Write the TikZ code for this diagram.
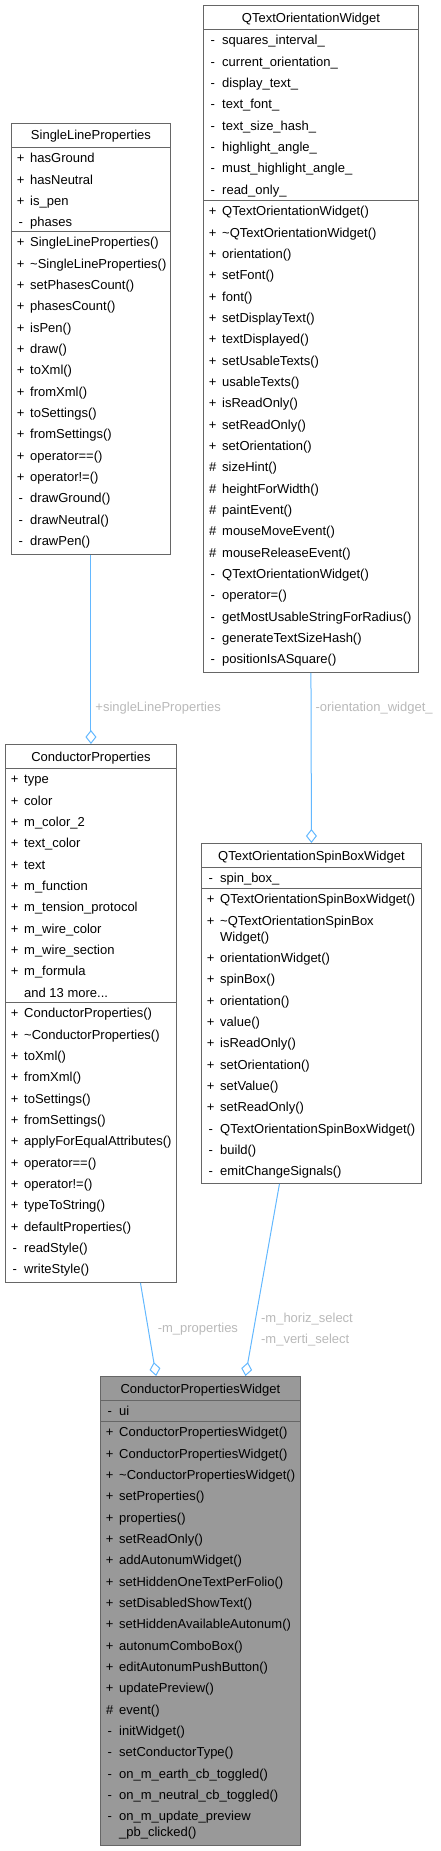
\documentclass[tikz,border=0pt]{standalone}
\usepackage{fontspec}
\setmainfont{Liberation Sans}
\usetikzlibrary{arrows.meta}
\definecolor{boxgray}{RGB}{102, 102, 102}
\definecolor{mainfill}{RGB}{153, 153, 153}
\definecolor{edgeblue}{RGB}{99, 184, 255}
\definecolor{labelgray}{RGB}{185, 185, 185}

% one row per member: sign column, then name
\newcommand{\memberrows}[3]{%
  \foreach \sg/\nm [count=\i from 0] in {#3}
    \node[member] at (#1, #2+21.33*\i) {\makebox[15pt][c]{\sg}\hspace{2pt}\nm};
}

\begin{document}
\begin{tikzpicture}[
    x = 1pt, y = -1pt,
    cls/.style = {draw = boxgray, line width = 0.9pt, fill = white, anchor = north west, inner sep = 0},
    mainclass/.style = {cls, fill = mainfill},
    sepline/.style = {draw = boxgray, line width = 0.9pt},
    title/.style = {anchor = base, inner sep = 0, font = \fontsize{13}{15}\selectfont},
    member/.style = {anchor = base west, inner sep = 0, font = \fontsize{13}{15}\selectfont},
    elabel/.style = {anchor = west, inner sep = 0, xshift = 4pt, text = labelgray, font = \fontsize{13}{21.3}\selectfont},
    assoc/.style = {draw = edgeblue, line width = 1pt, -{Diamond[open, length = 14pt, width = 11pt]}}
]
\useasboundingbox (0,0) rectangle (440,1851);

% SingleLineProperties
\node[cls, minimum width = 159pt, minimum height = 431pt] (slp) at (11,123) {};
\node[title] (slpname) at (slp.north |- 0,140) {SingleLineProperties};
\draw[sepline] (slp.west |- 0,147) -- (slp.east |- 0,147);
\draw[sepline] (slp.west |- 0,231) -- (slp.east |- 0,231);
\memberrows{13}{162.8}{+/hasGround, +/hasNeutral, +/is\_pen, -/phases}
\memberrows{13}{246.8}{+/SingleLineProperties(), +/\textasciitilde SingleLineProperties(), +/setPhasesCount(),
  +/phasesCount(), +/isPen(), +/draw(), +/toXml(), +/fromXml(), +/toSettings(), +/fromSettings(),
  +/operator==(), +/operator!=(), -/drawGround(), -/drawNeutral(), -/drawPen()}

% QTextOrientationWidget
\node[cls, minimum width = 215pt, minimum height = 667pt] (qtow) at (203,5) {};
\node[title] (qtowname) at (qtow.north |- 0,22.3) {QTextOrientationWidget};
\draw[sepline] (qtow.west |- 0,29) -- (qtow.east |- 0,29);
\draw[sepline] (qtow.west |- 0,200) -- (qtow.east |- 0,200);
\memberrows{205}{44.8}{-/squares\_interval\_, -/current\_orientation\_, -/display\_text\_, -/text\_font\_,
  -/text\_size\_hash\_, -/highlight\_angle\_, -/must\_highlight\_angle\_, -/read\_only\_}
\memberrows{205}{215.8}{+/QTextOrientationWidget(), +/\textasciitilde QTextOrientationWidget(), +/orientation(),
  +/setFont(), +/font(), +/setDisplayText(), +/textDisplayed(), +/setUsableTexts(), +/usableTexts(),
  +/isReadOnly(), +/setReadOnly(), +/setOrientation(), \#/sizeHint(), \#/heightForWidth(), \#/paintEvent(),
  \#/mouseMoveEvent(), \#/mouseReleaseEvent(), -/QTextOrientationWidget(), -/operator=(),
  -/getMostUsableStringForRadius(), -/generateTextSizeHash(), -/positionIsASquare()}

% ConductorProperties
\node[cls, minimum width = 171pt, minimum height = 538pt] (cp) at (5,744) {};
\node[title] (cpname) at (cp.north |- 0,761) {ConductorProperties};
\draw[sepline] (cp.west |- 0,768) -- (cp.east |- 0,768);
\draw[sepline] (cp.west |- 0,1002) -- (cp.east |- 0,1002);
\memberrows{7}{783.8}{+/type, +/color, +/m\_color\_2, +/text\_color, +/text, +/m\_function,
  +/m\_tension\_protocol, +/m\_wire\_color, +/m\_wire\_section, +/m\_formula, {}/{and 13 more.{}.{}.}}
\memberrows{7}{1017.8}{+/ConductorProperties(), +/\textasciitilde ConductorProperties(), +/toXml(), +/fromXml(),
  +/toSettings(), +/fromSettings(), +/applyForEqualAttributes(), +/operator==(), +/operator!=(),
  +/typeToString(), +/defaultProperties(), -/readStyle(), -/writeStyle()}

% QTextOrientationSpinBoxWidget
\node[cls, minimum width = 220pt, minimum height = 340pt] (qtosbw) at (201,843) {};
\node[title] (qtosbwname) at (qtosbw.north |- 0,860.3) {QTextOrientationSpinBoxWidget};
\draw[sepline] (qtosbw.west |- 0,867) -- (qtosbw.east |- 0,867);
\draw[sepline] (qtosbw.west |- 0,888) -- (qtosbw.east |- 0,888);
\memberrows{203}{882.8}{-/spin\_box\_}
\memberrows{203}{903.8}{+/QTextOrientationSpinBoxWidget(), +/\textasciitilde QTextOrientationSpinBox}
\node[member] (qtosbwwrap) at (220,941.1) {Widget()};
\memberrows{203}{962.5}{+/orientationWidget(), +/spinBox(), +/orientation(), +/value(), +/isReadOnly(),
  +/setOrientation(), +/setValue(), +/setReadOnly(), -/QTextOrientationSpinBoxWidget(), -/build(),
  -/emitChangeSignals()}

% ConductorPropertiesWidget
\node[mainclass, minimum width = 200pt, minimum height = 469pt] (cpw) at (100,1376) {};
\node[title] (cpwname) at (cpw.north |- 0,1393.3) {ConductorPropertiesWidget};
\draw[sepline] (cpw.west |- 0,1400) -- (cpw.east |- 0,1400);
\draw[sepline] (cpw.west |- 0,1421) -- (cpw.east |- 0,1421);
\memberrows{102}{1415.8}{-/ui}
\memberrows{102}{1436.8}{+/ConductorPropertiesWidget(), +/ConductorPropertiesWidget(),
  +/\textasciitilde ConductorPropertiesWidget(), +/setProperties(), +/properties(), +/setReadOnly(),
  +/addAutonumWidget(), +/setHiddenOneTextPerFolio(), +/setDisabledShowText(),
  +/setHiddenAvailableAutonum(), +/autonumComboBox(), +/editAutonumPushButton(), +/updatePreview(),
  \#/event(), -/initWidget(), -/setConductorType(), -/on\_m\_earth\_cb\_toggled(),
  -/on\_m\_neutral\_cb\_toggled(), -/on\_m\_update\_preview}
\node[member] (cpwwrap) at (119,1836.8) {\_pb\_clicked()};

% associations
\draw[assoc] (slp.south) -- node[elabel, pos = 0.81] {+singleLineProperties} (cp.north);
\draw[assoc] (qtow.south) -- node[elabel, pos = 0.21] {-orientation\_widget\_} (qtosbw.north);
\draw[assoc] ([xshift = 49.5pt]cp.south) -- node[elabel, pos = 0.5, xshift = 5pt] {-m\_properties} ([xshift = -44.3pt]cpw.north);
\draw[assoc] ([xshift = -32pt]qtosbw.south) -- node[elabel, pos = 0.76, xshift = 3pt, align = left] {-m\_horiz\_select\\-m\_verti\_select} ([xshift = 45pt]cpw.north);

\end{tikzpicture}
\end{document}
